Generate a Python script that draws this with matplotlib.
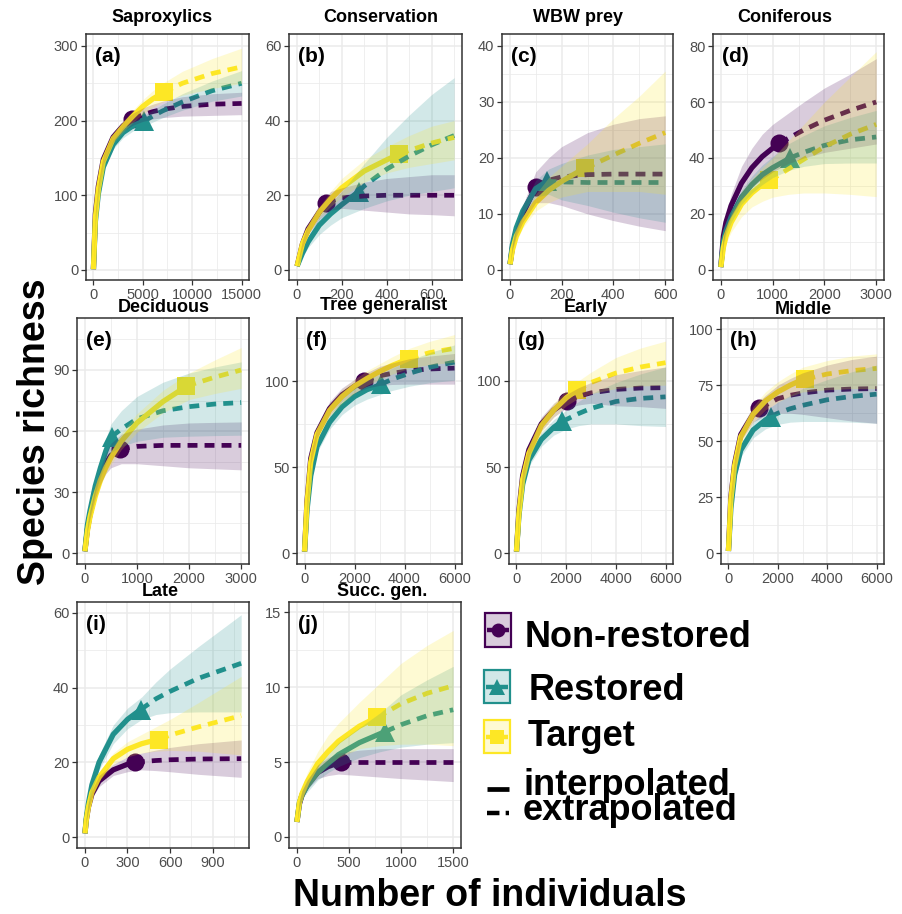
import matplotlib
matplotlib.use('Agg')
import numpy as np
import matplotlib.pyplot as plt
from matplotlib.patches import Rectangle

plt.rcParams['font.family'] = ['Liberation Sans', 'DejaVu Sans']

W, H = 902, 914

groups = ['Non-restored', 'Restored', 'Target']
colors = ['#440154', '#21908C', '#FDE725']
markers = ['o', '^', 's']
msizes = [13, 15, 13]
titles = ['Saproxylics', 'Conservation', 'WBW prey', 'Coniferous', 'Deciduous',
          'Tree generalist', 'Early', 'Middle', 'Late', 'Succ. gen.']
tags = ['(a)', '(b)', '(c)', '(d)', '(e)', '(f)', '(g)', '(h)', '(i)', '(j)']

# ---- (a) Saproxylics ----
x_a = [1, 200, 500, 1000, 2000, 3000, 4000, 5000, 6000, 7000, 9000, 12000, 15000]
y_a_non = [1, 75, 112, 148, 178, 193, 202, 208, 212, 215, 219, 222, 223]
lo_a_non = [1, 71, 107, 142, 171, 186, 194, 199, 202, 204, 206, 207, 208]
hi_a_non = [1, 79, 117, 154, 185, 200, 210, 217, 222, 226, 232, 236, 238]
y_a_res = [1, 65, 102, 138, 168, 184, 193, 199, 206, 213, 225, 240, 250]
lo_a_res = [1, 61, 97, 132, 162, 177, 186, 192, 198, 204, 214, 226, 233]
hi_a_res = [1, 69, 107, 144, 174, 191, 200, 206, 214, 222, 236, 253, 267]
y_a_tar = [1, 70, 108, 145, 176, 192, 206, 219, 229, 237, 250, 263, 272]
lo_a_tar = [1, 66, 103, 139, 170, 185, 198, 209, 218, 225, 234, 243, 250]
hi_a_tar = [1, 74, 113, 151, 182, 199, 214, 228, 240, 250, 266, 283, 297]
obs_a = [(3950, 202), (5100, 199), (7100, 238)]

# ---- (b) Conservation ----
x_b = [1, 25, 50, 100, 150, 200, 300, 400, 500, 600, 700]
y_b_non = [1, 7, 11, 15.5, 18.5, 19.3, 19.8, 20, 20, 20, 20]
lo_b_non = [1, 6, 9.5, 13.5, 16, 16.5, 16, 15.5, 15, 14.8, 14.5]
hi_b_non = [1, 8, 12.5, 17.5, 21, 22, 23.5, 24.5, 25, 25.5, 25.5]
y_b_res = [1, 4.5, 7.5, 12, 15, 17.5, 22.5, 27, 30.5, 33.5, 36]
lo_b_res = [1, 3.5, 6, 9.5, 12, 14, 16.5, 18.5, 20, 21, 22]
hi_b_res = [1, 5.5, 9, 14.5, 18, 21, 28.5, 35.5, 41.5, 47, 51.5]
y_b_tar = [1, 7, 10.5, 15.5, 19, 22, 26.5, 29.5, 32, 34, 35.5]
lo_b_tar = [1, 6, 9.5, 14, 17, 19.5, 23.5, 26, 27.5, 28.5, 29.5]
hi_b_tar = [1, 8, 11.5, 17, 21, 24.5, 29.5, 33, 36, 38.5, 40]
obs_b = [(130, 18), (275, 21), (455, 31)]

# ---- (c) WBW prey ----
x_c = [1, 10, 25, 50, 100, 150, 200, 300, 400, 500, 600]
y_c_non = [1, 4, 7, 10, 14.8, 16, 16.6, 17, 17.1, 17.1, 17.1]
lo_c_non = [1, 3.5, 6, 8.5, 12, 12, 11.5, 10, 8.8, 7.8, 7]
hi_c_non = [1, 4.5, 8, 11.5, 17.5, 20, 22, 24.5, 26, 27, 27.5]
y_c_res = [1, 4.5, 7.5, 10.5, 14.5, 15.8, 15.7, 15.6, 15.6, 15.6, 15.6]
lo_c_res = [1, 4, 6.5, 9.5, 13, 13.5, 12.5, 11.5, 10.3, 9.3, 8.5]
hi_c_res = [1, 5, 8.5, 11.5, 16, 18, 19, 20.5, 21.5, 22, 22.5]
y_c_tar = [1, 3.5, 6, 8.5, 12, 14.2, 15.8, 18.3, 20.5, 22.6, 24.5]
lo_c_tar = [1, 3, 5, 7.5, 10.5, 12, 13, 14, 14, 14, 13.5]
hi_c_tar = [1, 4, 7, 9.5, 13.5, 16.5, 18.5, 22.5, 27, 31, 35.5]
obs_c = [(100, 14.8), (142, 15.8), (290, 18.2)]

# ---- (d) Coniferous ----
x_d = [1, 50, 100, 200, 400, 600, 800, 1000, 1300, 1600, 2000, 2500, 3000]
y_d_non = [1, 12, 17, 23, 31, 36.5, 40.5, 43.5, 47, 50, 53.5, 57, 60]
lo_d_non = [1, 10, 14, 19, 25, 29.5, 32.5, 35, 38, 40, 42, 43.5, 45]
hi_d_non = [1, 14, 20, 27, 37, 43.5, 48.5, 52, 56, 60, 65, 70, 75.5]
y_d_res = [1, 10, 14, 19, 26, 30.5, 34, 36.5, 39.6, 42, 44.5, 46.5, 47.5]
lo_d_res = [1, 9, 12.5, 17, 23.5, 27.5, 30.5, 33, 35.5, 37, 38, 38.2, 38.2]
hi_d_res = [1, 11, 15.5, 21, 28.5, 33.5, 37.5, 40.5, 45, 48, 51.5, 54.5, 57]
y_d_tar = [1, 8, 12, 17, 23.5, 27.5, 30.5, 32.5, 36, 39.5, 44, 48.5, 52]
lo_d_tar = [1, 6.5, 9.5, 13.5, 19, 22.5, 24.5, 26, 27, 27.5, 27.5, 27, 26.2]
hi_d_tar = [1, 9.5, 14.5, 20.5, 28, 32.5, 36.5, 40, 46, 52, 60, 69, 78]
obs_d = [(1130, 45.2), (1335, 40), (935, 32)]

# ---- (e) Deciduous ----
x_e = [1, 50, 100, 200, 300, 400, 500, 700, 1000, 1500, 2000, 2500, 3000]
y_e_non = [1, 12, 19, 30, 38, 44, 48, 51.3, 52.5, 53, 53, 53, 53]
lo_e_non = [1, 11, 17, 27, 34, 39, 42, 44, 44, 43, 42, 41.5, 41]
hi_e_non = [1, 13, 21, 33, 42, 49, 54, 58.5, 61, 63, 64, 64.3, 64.5]
y_e_res = [1, 14, 21, 33, 42, 50, 56.5, 61, 66, 70, 72, 73.3, 74]
lo_e_res = [1, 12.5, 19, 29.5, 37.5, 44, 49.5, 52.5, 55, 57, 57.5, 57.8, 58]
hi_e_res = [1, 15.5, 23, 36.5, 46.5, 56, 63.5, 70, 77, 84, 88.5, 91.5, 94]
y_e_tar = [1, 11, 18, 28, 36, 42, 47, 55, 64, 74.5, 82.5, 86.5, 90]
lo_e_tar = [1, 10, 16.5, 26, 33, 39, 43.5, 51, 59.5, 69, 75.5, 78.5, 81]
hi_e_tar = [1, 12, 19.5, 30, 39, 45, 50.5, 59, 68.5, 80, 88.5, 95, 101]
obs_e = [(673, 51), (513, 57.3), (1950, 82)]

# ---- (f) Tree generalist ----
x_f = [1, 100, 250, 500, 1000, 1500, 2000, 2500, 3000, 3500, 4200, 5000, 6000]
y_f_non = [1, 30, 55, 70, 84, 92, 97, 100.5, 103, 104.5, 106, 107, 107.5]
lo_f_non = [1, 28, 52, 67, 80, 88, 93, 96, 97.5, 98, 98.2, 98.2, 98.2]
hi_f_non = [1, 32, 58, 73, 88, 96, 101, 105, 108.5, 110.5, 113, 114.5, 116]
y_f_res = [1, 25, 45, 62, 76, 85, 91, 95, 97.6, 101, 104.5, 108, 111]
lo_f_res = [1, 23, 42, 58.5, 72, 80.5, 86, 89.5, 92, 94.5, 97, 99, 100.5]
hi_f_res = [1, 27, 48, 65.5, 80, 89.5, 96, 100.5, 104, 107.5, 112, 116.5, 121]
y_f_tar = [1, 29, 53, 69, 83, 91, 97, 101.5, 105.5, 109, 113, 116.5, 119]
lo_f_tar = [1, 27, 50, 66, 79.5, 87, 93, 97.5, 101, 104, 107.5, 109.5, 111]
hi_f_tar = [1, 31, 56, 72, 86.5, 95, 101, 106, 110, 114, 119, 123, 127]
obs_f = [(2380, 100), (3040, 98), (4170, 113)]

# ---- (g) Early ----
x_g = [1, 100, 250, 500, 1000, 1500, 2000, 2500, 3000, 4000, 5000, 6000]
y_g_non = [1, 25, 45, 60, 75, 83, 88, 91, 93, 95, 95.8, 96]
lo_g_non = [1, 23, 42, 57, 71, 79, 84, 86, 87, 85.5, 85, 84]
hi_g_non = [1, 27, 48, 63, 79, 87, 92, 96, 99, 103.5, 106, 108]
y_g_res = [1, 22, 40, 54, 66, 73, 77.5, 81, 84, 88, 89.8, 90.7]
lo_g_res = [1, 20, 37, 50.5, 62, 68.5, 72, 74, 75, 75, 74, 73.5]
hi_g_res = [1, 24, 43, 57.5, 70, 77.5, 83, 88, 92.5, 99, 104, 108]
y_g_tar = [1, 23, 43, 58, 74, 83, 90, 95, 99, 104.5, 108, 110.5]
lo_g_tar = [1, 21, 40, 55, 70, 79, 85.5, 90, 92.5, 95.5, 97, 97.5]
hi_g_tar = [1, 25, 46, 61, 78, 87, 94.5, 100, 105, 113.5, 119, 123]
obs_g = [(2040, 88.2), (1840, 76.6), (2420, 94.6)]

# ---- (h) Middle ----
x_h = [1, 100, 250, 500, 1000, 1500, 2000, 2500, 3000, 4000, 5000, 6000]
y_h_non = [1, 25, 40, 53, 62, 66, 69, 70.5, 71.5, 72.8, 73.3, 73.5]
lo_h_non = [1, 23, 37.5, 50, 58.5, 61.5, 62.5, 62.5, 62, 60.5, 59, 58]
hi_h_non = [1, 27, 42.5, 56, 65.5, 70.5, 75, 78, 80.5, 84, 86.5, 88]
y_h_res = [1, 20, 35, 46, 55, 59.5, 62.5, 64.5, 66, 68.5, 70, 71]
lo_h_res = [1, 18.5, 32.5, 43, 51.5, 55.5, 57.5, 58.5, 58.8, 58.8, 58.5, 58]
hi_h_res = [1, 21.5, 37.5, 49, 58.5, 63.5, 67.5, 70.5, 73.5, 77.5, 81, 84]
y_h_tar = [1, 24, 39, 52, 62, 68, 72, 75, 77.5, 80, 81.5, 82.5]
lo_h_tar = [1, 22.5, 36.5, 49, 58.5, 64, 67.5, 70, 72, 73, 73.5, 73.5]
hi_h_tar = [1, 25.5, 41.5, 55, 65.5, 72, 76.5, 80, 83, 86, 88, 89]
obs_h = [(1245, 65), (1713, 61), (3120, 77.7)]

# ---- (i) Late ----
x_i = [1, 10, 25, 50, 100, 200, 300, 400, 500, 600, 800, 1100]
y_i_non = [1, 4.5, 8, 11.5, 15, 18, 19.5, 20.2, 20.5, 20.7, 20.9, 21]
lo_i_non = [1, 4, 7, 10.5, 13.5, 16.5, 17.5, 18, 17.8, 17.5, 16.8, 16]
hi_i_non = [1, 5, 9, 12.5, 16.5, 19.5, 21.5, 22.5, 23.3, 24, 25, 26]
y_i_res = [1, 5, 9, 14, 20, 27.5, 31.5, 34.3, 37, 39, 42.5, 46.5]
lo_i_res = [1, 4.5, 8, 12.5, 18, 25, 29, 31.5, 32.8, 33.3, 33.5, 33.5]
hi_i_res = [1, 5.5, 10, 15.5, 22, 30, 34.5, 37.5, 41.5, 45, 51, 59.5]
y_i_tar = [1, 4.5, 8, 12, 16, 21, 23.5, 25, 26, 27.3, 29.5, 32.5]
lo_i_tar = [1, 4, 7.5, 11, 15, 19.5, 21.5, 22.5, 23, 23.2, 23, 22]
hi_i_tar = [1, 5, 8.5, 13, 17, 22.5, 25.5, 27.5, 29.5, 31.5, 36, 43]
obs_i = [(352, 20), (392, 34.1), (524, 26.1)]

# ---- (j) Succ. gen. ----
x_j = [1, 25, 50, 100, 200, 300, 400, 600, 800, 1000, 1250, 1500]
y_j_non = [1, 2.2, 2.8, 3.5, 4.3, 4.7, 4.95, 5, 5, 5, 5, 5]
lo_j_non = [1, 2, 2.5, 3.2, 3.9, 4.1, 4.2, 4.1, 4, 3.9, 3.8, 3.7]
hi_j_non = [1, 2.4, 3.1, 3.8, 4.8, 5.3, 5.6, 5.8, 5.9, 5.9, 5.9, 5.9]
y_j_res = [1, 2.3, 2.8, 3.4, 4.3, 4.9, 5.5, 6.3, 6.9, 7.5, 8.1, 8.5]
lo_j_res = [1, 2.1, 2.5, 3.0, 3.8, 4.3, 4.7, 5.3, 5.7, 6.0, 6.2, 6.3]
hi_j_res = [1, 2.5, 3.1, 3.8, 4.8, 5.5, 6.3, 7.3, 8.3, 9.5, 10.5, 11.4]
y_j_tar = [1, 2.3, 2.9, 3.7, 4.9, 5.7, 6.4, 7.4, 8.1, 8.9, 9.6, 10.1]
lo_j_tar = [1, 2.0, 2.5, 3.2, 4.1, 4.8, 5.3, 5.9, 6.1, 6.2, 6.2, 6.1]
hi_j_tar = [1, 2.6, 3.3, 4.3, 5.7, 6.8, 7.6, 9.0, 10.3, 11.6, 12.8, 13.8]
obs_j = [(423, 5), (849, 7.04), (769, 8)]

x_ticks = [[0, 5000, 10000, 15000], [0, 200, 400, 600], [0, 200, 400, 600],
           [0, 1000, 2000, 3000], [0, 1000, 2000, 3000], [0, 2000, 4000, 6000],
           [0, 2000, 4000, 6000], [0, 2000, 4000, 6000], [0, 300, 600, 900],
           [0, 500, 1000, 1500]]
y_ticks = [[0, 100, 200, 300], [0, 20, 40, 60], [0, 10, 20, 30, 40],
           [0, 20, 40, 60, 80], [0, 30, 60, 90], [0, 50, 100], [0, 50, 100],
           [0, 25, 50, 75, 100], [0, 20, 40, 60], [0, 5, 10, 15]]

panels = [
    (x_a, [y_a_non, y_a_res, y_a_tar], [lo_a_non, lo_a_res, lo_a_tar], [hi_a_non, hi_a_res, hi_a_tar], obs_a),
    (x_b, [y_b_non, y_b_res, y_b_tar], [lo_b_non, lo_b_res, lo_b_tar], [hi_b_non, hi_b_res, hi_b_tar], obs_b),
    (x_c, [y_c_non, y_c_res, y_c_tar], [lo_c_non, lo_c_res, lo_c_tar], [hi_c_non, hi_c_res, hi_c_tar], obs_c),
    (x_d, [y_d_non, y_d_res, y_d_tar], [lo_d_non, lo_d_res, lo_d_tar], [hi_d_non, hi_d_res, hi_d_tar], obs_d),
    (x_e, [y_e_non, y_e_res, y_e_tar], [lo_e_non, lo_e_res, lo_e_tar], [hi_e_non, hi_e_res, hi_e_tar], obs_e),
    (x_f, [y_f_non, y_f_res, y_f_tar], [lo_f_non, lo_f_res, lo_f_tar], [hi_f_non, hi_f_res, hi_f_tar], obs_f),
    (x_g, [y_g_non, y_g_res, y_g_tar], [lo_g_non, lo_g_res, lo_g_tar], [hi_g_non, hi_g_res, hi_g_tar], obs_g),
    (x_h, [y_h_non, y_h_res, y_h_tar], [lo_h_non, lo_h_res, lo_h_tar], [hi_h_non, hi_h_res, hi_h_tar], obs_h),
    (x_i, [y_i_non, y_i_res, y_i_tar], [lo_i_non, lo_i_res, lo_i_tar], [hi_i_non, hi_i_res, hi_i_tar], obs_i),
    (x_j, [y_j_non, y_j_res, y_j_tar], [lo_j_non, lo_j_res, lo_j_tar], [hi_j_non, hi_j_res, hi_j_tar], obs_j),
]

# layout in pixels (left, top, right, bottom)
boxes = [(86, 34, 249, 280), (289, 34, 462, 280), (502, 34, 673, 280), (713, 34, 884, 280),
         (77, 318, 249, 564), (297, 318, 462, 564), (509, 318, 673, 564), (721, 318, 884, 564),
         (77, 602, 249, 848), (289, 602, 461, 848)]
xlims = [(-750, 15750), (-35, 735), (-30, 630), (-150, 3150), (-150, 3150),
         (-300, 6300), (-300, 6300), (-300, 6300), (-55, 1155), (-75, 1575)]
ylims = [(-13.4, 316), (-2.7, 63.2), (-1.8, 42.1), (-3.6, 84.3), (-5.2, 115.5),
         (-6.2, 136.6), (-6.2, 136.4), (-4.8, 105), (-2.9, 62.9), (-0.74, 15.7)]
title_xy = [(162, 17), (381, 17), (578, 17), (785, 17), (164, 307), (384, 305),
            (586, 307), (803, 309), (160, 591), (382, 591)]


def minor_ticks(major, lim):
    step = major[1] - major[0]
    cand = [major[0] - step / 2] + [m + step / 2 for m in major]
    return [c for c in cand if lim[0] < c < lim[1]]


fig = plt.figure(figsize=(W / 100, H / 100), dpi=100)

for p, (xg, ys, los, his, obs) in enumerate(panels):
    l, t, r, b = boxes[p]
    ax = fig.add_axes([l / W, 1 - b / H, (r - l) / W, (b - t) / H])
    x = np.array(xg, dtype=float)
    # points, then lines, then ribbons on top (iNEXT layer order)
    for k in range(3):
        n0, s0 = obs[k]
        ax.plot(n0, s0, marker=markers[k], ms=msizes[k], color=colors[k],
                ls='none', zorder=3, markeredgewidth=0)
    for k in range(3):
        y = np.array(ys[k], dtype=float)
        n0, s0 = obs[k]
        before, after = x < n0, x > n0
        xi = np.append(x[before], n0)
        yi = np.append(y[before], s0)
        xe = np.insert(x[after], 0, n0)
        ye = np.insert(y[after], 0, s0)
        ax.plot(xi, yi, color=colors[k], lw=3.8, solid_capstyle='butt', zorder=4)
        ax.plot(xe, ye, color=colors[k], lw=3.4, dashes=(2.1, 1.5),
                dash_capstyle='butt', zorder=4)
    for k in range(3):
        ax.fill_between(x, los[k], his[k], color=colors[k], alpha=0.2, lw=0, zorder=5)

    ax.set_xlim(*xlims[p])
    ax.set_ylim(*ylims[p])
    ax.set_xticks(x_ticks[p])
    ax.set_yticks(y_ticks[p])
    ax.set_xticks(minor_ticks(x_ticks[p], xlims[p]), minor=True)
    ax.set_yticks(minor_ticks(y_ticks[p], ylims[p]), minor=True)
    ax.grid(which='major', color='#EBEBEB', lw=1.1)
    ax.grid(which='minor', color='#EBEBEB', lw=0.55)
    ax.set_axisbelow(True)
    ax.tick_params(which='major', length=3.5, width=0.9, color='#333333',
                   labelcolor='#4D4D4D', labelsize=10.5, pad=2)
    ax.tick_params(which='minor', length=0)
    for s in ax.spines.values():
        s.set_color('#333333')
        s.set_linewidth(1.1)
    ax.annotate(tags[p], xy=(0, 1), xycoords='axes fraction', xytext=(6.5, -16),
                textcoords='offset points', ha='left', va='center',
                fontsize=15, fontweight='bold', zorder=10)
    tx, ty = title_xy[p]
    fig.text(tx / W, 1 - ty / H, titles[p], ha='center', va='center',
             fontsize=13, fontweight='bold')

# overlay in pixel coordinates for axis titles and legend
ov = fig.add_axes([0, 0, 1, 1])
ov.set_xlim(0, W)
ov.set_ylim(H, 0)
ov.axis('off')
ov.patch.set_visible(False)

ov.text(35, 432, 'Species richness', rotation=90, ha='center', va='center',
        fontsize=27, fontweight='bold')
ov.text(490, 906, 'Number of individuals', ha='center', va='baseline',
        fontsize=27, fontweight='bold')

key_boxes = [(485, 613, 647), (484, 670, 703), (484, 720, 753)]
text_pos = [(525, 647), (529, 700), (528, 746)]
for k in range(3):
    x0, y0, y1 = key_boxes[k]
    ov.add_patch(Rectangle((x0, y0), 26, y1 - y0, facecolor=colors[k], alpha=0.2, lw=0))
    ov.add_patch(Rectangle((x0, y0), 26, y1 - y0, facecolor='none',
                           edgecolor=colors[k], lw=1.6))
    yc = (y0 + y1) / 2
    ov.plot([x0 + 2, x0 + 24], [yc, yc], color=colors[k], lw=3.2, solid_capstyle='butt')
    ov.plot(x0 + 13, yc, marker=markers[k], ms=msizes[k] - 3, color=colors[k],
            markeredgewidth=0)
    tx, ty = text_pos[k]
    ov.text(tx, ty, groups[k], ha='left', va='baseline', fontsize=26, fontweight='bold')

ov.plot([487, 509], [789, 789], color='black', lw=3.4, solid_capstyle='butt')
ov.text(523, 795, 'interpolated', ha='left', va='baseline', fontsize=26, fontweight='bold')
ov.plot([487, 509], [813, 813], color='black', lw=3.2, dashes=(2.8, 1.4),
        dash_capstyle='butt')
ov.text(523, 820, 'extrapolated', ha='left', va='baseline', fontsize=26, fontweight='bold')

fig.savefig('out.png', dpi=100)
